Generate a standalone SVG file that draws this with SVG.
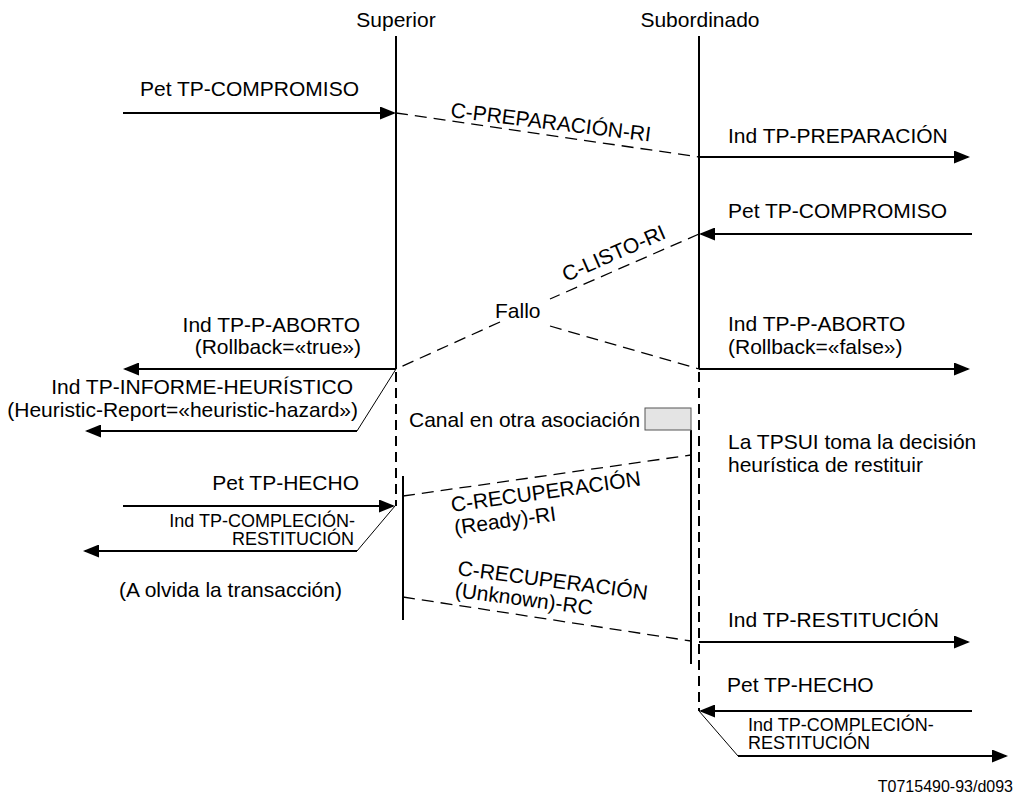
<svg xmlns="http://www.w3.org/2000/svg" width="1015" height="796" viewBox="0 0 1015 796">
  <style>
    text { font-family: "Liberation Sans", Arial, sans-serif; font-size: 21px; fill: #000; }
    .small { font-size: 18px; }
    .ref { font-size: 16px; }
    .end { text-anchor: end; }
    .mid { text-anchor: middle; }
    .life { stroke: #000; stroke-width: 2; fill: none; }
    .lifedash { stroke: #000; stroke-width: 2; fill: none; stroke-dasharray: 10 6; }
    .msg { stroke: #000; stroke-width: 2; fill: none; marker-end: url(#arrow); }
    .pdu { stroke: #000; stroke-width: 1.3; fill: none; stroke-dasharray: 12 7; }
    .thin { stroke: #000; stroke-width: 1; fill: none; }
  </style>
  <defs>
    <marker id="arrow" markerUnits="userSpaceOnUse" markerWidth="16" markerHeight="13" refX="14" refY="6.5" orient="auto">
      <path d="M0,0 L16,6.5 L0,13 z" fill="#000"/>
    </marker>
  </defs>
  <rect width="1015" height="796" fill="#fff"/>

  <!-- Superior entity -->
  <g id="superior">
    <text class="mid" x="396" y="27">Superior</text>
    <line class="life" x1="396" y1="36" x2="396" y2="369"/>
    <line class="lifedash" x1="396" y1="372" x2="396" y2="506"/>
    <line class="life" x1="403" y1="476" x2="403" y2="620"/>
  </g>

  <!-- Subordinado entity -->
  <g id="subordinado">
    <text class="mid" x="700" y="27">Subordinado</text>
    <line class="life" x1="699" y1="36" x2="699" y2="369"/>
    <line class="lifedash" x1="699" y1="372" x2="699" y2="711"/>
    <line class="life" x1="691" y1="430" x2="691" y2="664"/>
  </g>

  <!-- Channel on another association -->
  <g id="canal">
    <rect x="645" y="408" width="46" height="22" fill="#e4e4e4" stroke="#555" stroke-width="1"/>
    <text x="409" y="427">Canal en otra asociación</text>
  </g>

  <!-- Heuristic decision note -->
  <g id="decision">
    <text x="728" y="449">La TPSUI toma la decisión</text>
    <text x="728" y="472">heurística de restituir</text>
  </g>

  <!-- Connectors -->
  <g id="connectors">
    <!-- service primitives, superior side -->
    <line class="msg" x1="123" y1="113" x2="394" y2="113"/>
    <line class="msg" x1="396" y1="369" x2="125" y2="369"/>
    <line class="thin" x1="396" y1="369" x2="357" y2="431"/>
    <line class="msg" x1="357" y1="431" x2="87" y2="431"/>
    <line class="msg" x1="123" y1="506" x2="393" y2="506"/>
    <line class="thin" x1="395" y1="506" x2="357" y2="551"/>
    <line class="msg" x1="357" y1="551" x2="85" y2="551"/>

    <!-- service primitives, subordinate side -->
    <line class="msg" x1="699" y1="157" x2="968" y2="157"/>
    <line class="msg" x1="972" y1="234" x2="701" y2="234"/>
    <line class="msg" x1="699" y1="369" x2="968" y2="369"/>
    <line class="msg" x1="699" y1="642" x2="968" y2="642"/>
    <line class="msg" x1="972" y1="711" x2="701" y2="711"/>
    <line class="thin" x1="699" y1="711" x2="738" y2="756"/>
    <line class="msg" x1="738" y1="756" x2="1006" y2="756"/>

    <!-- protocol data units -->
    <line class="pdu" x1="396" y1="113" x2="699" y2="157"/>
    <line class="pdu" x1="699" y1="234" x2="550" y2="299"/>
    <line class="pdu" x1="500" y1="322" x2="396" y2="369"/>
    <line class="pdu" x1="550" y1="326" x2="699" y2="369"/>
    <line class="pdu" x1="403" y1="496" x2="691" y2="455"/>
    <line class="pdu" x1="403" y1="597" x2="691" y2="641"/>
  </g>

  <!-- Connector labels -->
  <g id="labels">
    <text x="140" y="96">Pet TP-COMPROMISO</text>
    <text transform="translate(450,117) rotate(7)">C-PREPARACIÓN-RI</text>
    <text x="728" y="143">Ind TP-PREPARACIÓN</text>
    <text x="728" y="218">Pet TP-COMPROMISO</text>
    <text transform="translate(566,282) rotate(-23.6)">C-LISTO-RI</text>
    <text x="495" y="318">Fallo</text>
    <text class="end" x="360" y="332">Ind TP-P-ABORTO</text>
    <text class="end" x="361" y="354">(Rollback=«true»)</text>
    <text x="728" y="331">Ind TP-P-ABORTO</text>
    <text x="728" y="354">(Rollback=«false»)</text>
    <text class="end" x="353" y="394">Ind TP-INFORME-HEURÍSTICO</text>
    <text class="end" x="358" y="417">(Heuristic-Report=«heuristic-hazard»)</text>
    <text class="end" x="359" y="490">Pet TP-HECHO</text>
    <text class="small end" x="355" y="527">Ind TP-COMPLECIÓN-</text>
    <text class="small end" x="354" y="545">RESTITUCIÓN</text>
    <text x="119" y="597">(A olvida la transacción)</text>
    <text transform="translate(452,512) rotate(-8)">C-RECUPERACIÓN<tspan x="0" dy="23">(Ready)-RI</tspan></text>
    <text transform="translate(457,575) rotate(7.5)">C-RECUPERACIÓN<tspan x="0" dy="22">(Unknown)-RC</tspan></text>
    <text x="728" y="627">Ind TP-RESTITUCIÓN</text>
    <text x="727" y="692">Pet TP-HECHO</text>
    <text class="small" x="748" y="731">Ind TP-COMPLECIÓN-</text>
    <text class="small" x="748" y="749">RESTITUCIÓN</text>
  </g>

  <text class="ref end" x="1013" y="792">T0715490-93/d093</text>
</svg>
